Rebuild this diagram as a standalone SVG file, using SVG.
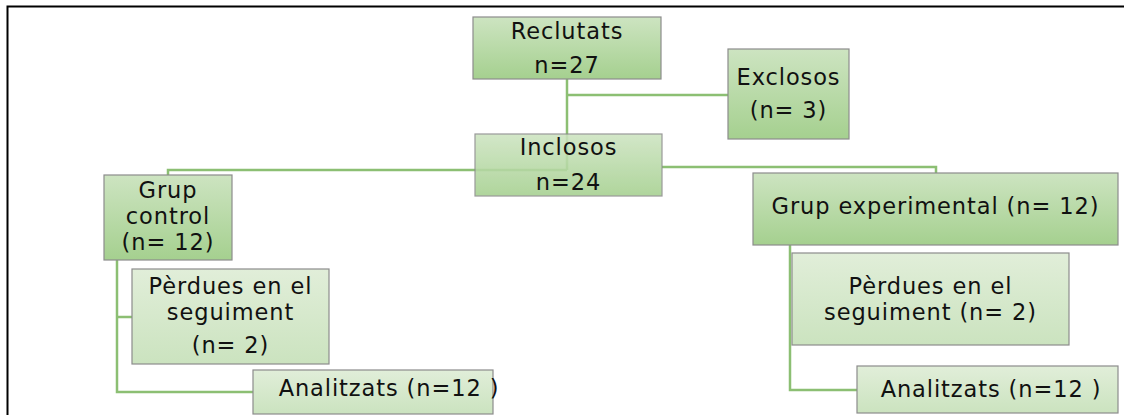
<svg xmlns="http://www.w3.org/2000/svg" width="1124" height="415" viewBox="0 0 1124 415">
<defs>
<linearGradient id="gDark" x1="0" y1="0" x2="0" y2="1">
<stop offset="0" stop-color="#cde4c1"/>
<stop offset="1" stop-color="#a5d08f"/>
</linearGradient>
<linearGradient id="gLight" x1="0" y1="0" x2="0" y2="1">
<stop offset="0" stop-color="#e1eed9"/>
<stop offset="1" stop-color="#cbe3bf"/>
</linearGradient>
<style>
.dark{fill:url(#gDark);stroke:#8c8c8c;stroke-width:1.2}
.light{fill:url(#gLight);stroke:#8c8c8c;stroke-width:1.2}
.t{font-family:"DejaVu Sans",Verdana,sans-serif;font-size:22.5px;letter-spacing:0.9px;fill:#111;text-anchor:middle}
.c{fill:none;stroke:#8cbf73;stroke-width:2.5}
</style>
</defs>
<rect width="1124" height="415" fill="#fff"/>
<path d="M7.5,415 V6.5 H1124" fill="none" stroke="#000" stroke-width="2"/>
<g id="connectors">
<path class="c" d="M567,79 V170"/>
<path class="c" d="M567,95 H728"/>
<path class="c" d="M567,170 H168 V175"/>
<path class="c" d="M662,167 H936 V173"/>
<path class="c" d="M117,260 V392 H253"/>
<path class="c" d="M117,317 H132"/>
<path class="c" d="M790,245 V390 H857"/>
</g>
<g id="reclutats">
<rect class="dark" x="473" y="17" width="188" height="62"/>
<text class="t" x="567" y="39">Reclutats</text>
<text class="t" x="567" y="73">n=27</text>
</g>
<g id="exclosos">
<rect class="dark" x="728" y="49" width="121" height="90"/>
<text class="t" x="788.5" y="85">Exclosos</text>
<text class="t" x="788.5" y="118">(n= 3)</text>
</g>
<g id="inclosos">
<rect class="dark" x="475" y="134" width="187" height="62" style="opacity:0.88"/>
<text class="t" x="568.5" y="155">Inclosos</text>
<text class="t" x="568.5" y="190">n=24</text>
</g>
<g id="grup-control">
<rect class="dark" x="104" y="175" width="128" height="85"/>
<text class="t" x="168" y="198">Grup</text>
<text class="t" x="168" y="224">control</text>
<text class="t" x="168" y="250">(n= 12)</text>
</g>
<g id="perdues-control">
<rect class="light" x="132" y="269" width="197" height="95"/>
<text class="t" x="230.5" y="294">Pèrdues en el</text>
<text class="t" x="230.5" y="320">seguiment</text>
<text class="t" x="230.5" y="353">(n= 2)</text>
</g>
<g id="analitzats-control">
<rect class="light" x="253" y="370" width="240" height="44"/>
<text class="t" x="389" y="396">Analitzats (n=12 )</text>
</g>
<g id="grup-experimental">
<rect class="dark" x="753" y="173" width="365" height="72"/>
<text class="t" x="935.5" y="214">Grup experimental (n= 12)</text>
</g>
<g id="perdues-experimental">
<rect class="light" x="792" y="253" width="277" height="92"/>
<text class="t" x="930.5" y="294">Pèrdues en el</text>
<text class="t" x="930.5" y="320">seguiment (n= 2)</text>
</g>
<g id="analitzats-experimental">
<rect class="light" x="857" y="366" width="261" height="47"/>
<text class="t" x="991" y="397">Analitzats (n=12 )</text>
</g>
</svg>
